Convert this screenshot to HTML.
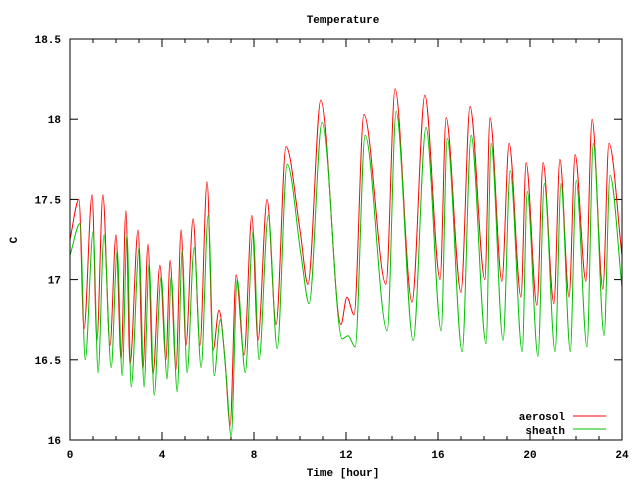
<!DOCTYPE html>
<html><head><meta charset="utf-8"><style>
html,body{margin:0;padding:0;background:#fff;}
svg text{font-family:"Liberation Mono","DejaVu Sans Mono",monospace;font-size:11px;font-weight:bold;fill:#000;}
</style></head><body>
<svg id="chart" width="640" height="480" xmlns="http://www.w3.org/2000/svg">
<rect x="0" y="0" width="640" height="480" fill="#fff"/>
<g id="grid"></g>
<g id="series"></g>
<rect x="70" y="39" width="552" height="401" fill="none" stroke="#000" stroke-width="1"/>
<text x="343" y="23" text-anchor="middle">Temperature</text>
<text x="343" y="476" text-anchor="middle">Time [hour]</text>
<text x="17" y="240" text-anchor="middle" transform="rotate(-90 17 240)">C</text>
<g>
<text x="565" y="420" text-anchor="end">aerosol</text>
<line x1="573" y1="416" x2="606" y2="416" stroke="#ff0000"/>
<text x="565" y="434" text-anchor="end">sheath</text>
<line x1="573" y1="429" x2="606" y2="429" stroke="#00c000"/>
</g>
</svg>
<script>
const xTicks=[0,4,8,12,16,20,24];
const yTicks=[16,16.5,17,17.5,18,18.5];
const yTickLabels=["16","16.5","17","17.5","18","18.5"];
const aerosolT=[0,0.39,0.61,0.96,1.17,1.43,1.74,2.0,2.22,2.43,2.61,2.96,3.17,3.39,3.61,3.91,4.17,4.35,4.61,4.83,5.04,5.35,5.65,5.96,6.22,6.48,6.74,6.96,7.22,7.57,7.91,8.17,8.57,8.96,9.39,10.0,10.35,10.91,11.78,12.04,12.35,12.78,13.74,14.13,14.87,15.43,16.09,16.35,17.0,17.39,18.04,18.26,18.78,19.09,19.61,19.83,20.30,20.57,21.04,21.30,21.70,21.96,22.43,22.70,23.17,23.43,24.0];
const aerosolV=[17.25,17.50,16.69,17.53,16.62,17.53,16.59,17.28,16.50,17.43,16.47,17.31,16.44,17.22,16.41,17.09,16.50,17.12,16.44,17.31,16.59,17.38,16.59,17.61,16.56,16.81,16.50,16.09,17.03,16.53,17.40,16.62,17.50,16.72,17.83,17.31,16.97,18.12,16.72,16.89,16.78,18.03,16.97,18.19,16.86,18.15,17.0,18.01,16.92,18.08,17.0,18.01,16.99,17.85,16.89,17.73,16.84,17.73,16.85,17.75,16.89,17.78,16.99,18.0,16.94,17.85,17.15];
const sheathT=[0,0.44,0.66,1.01,1.22,1.48,1.79,2.05,2.27,2.48,2.66,3.01,3.22,3.44,3.66,3.96,4.22,4.40,4.66,4.88,5.09,5.40,5.70,6.01,6.27,6.53,6.79,7.01,7.27,7.62,7.96,8.22,8.62,9.01,9.44,10.05,10.40,10.96,11.83,12.09,12.40,12.83,13.79,14.18,14.92,15.48,16.14,16.40,17.05,17.44,18.09,18.31,18.83,19.14,19.66,19.88,20.35,20.62,21.09,21.35,21.75,22.01,22.48,22.75,23.22,23.48,24.0];
const sheathV=[17.15,17.35,16.50,17.30,16.42,17.28,16.45,17.18,16.40,17.28,16.33,17.20,16.33,17.10,16.28,17.02,16.38,17.02,16.30,17.18,16.42,17.20,16.45,17.40,16.40,16.75,16.40,16.02,17.00,16.42,17.30,16.50,17.40,16.57,17.72,17.15,16.85,17.98,16.63,16.65,16.58,17.90,16.68,18.05,16.62,17.95,16.68,17.88,16.55,17.90,16.60,17.85,16.62,17.68,16.55,17.55,16.52,17.60,16.55,17.60,16.55,17.62,16.58,17.85,16.65,17.65,16.95];
const X=t=>70+t*23;
const Y=v=>440-(v-16)*160.4;
const NS="http://www.w3.org/2000/svg";
const grid=document.getElementById('grid');
function mk(tag,attrs,parent){const e=document.createElementNS(NS,tag);for(const k in attrs)e.setAttribute(k,attrs[k]);parent.appendChild(e);return e;}
for(let h=0;h<=24;h++){
  const len=(h%4===0)?8:4;
  const l1=mk('line',{x1:X(h),y1:440,x2:X(h),y2:440-len,stroke:'#000'},grid);
  
  
  const l2=mk('line',{x1:X(h),y1:39,x2:X(h),y2:39+len,stroke:'#000'},grid);
  
  
}
xTicks.forEach(t=>{
  const tx=mk('text',{x:X(t),y:458,'text-anchor':'middle'},grid);
  tx.textContent=String(t);
  
  
});
yTicks.forEach((v,i)=>{
  const a=mk('line',{x1:70,y1:Y(v),x2:78,y2:Y(v),stroke:'#000'},grid);
  
  
  const b=mk('line',{x1:614,y1:Y(v),x2:622,y2:Y(v),stroke:'#000'},grid);
  
  
  const tx=mk('text',{x:61,y:Y(v)+4,'text-anchor':'end'},grid);
  tx.textContent=yTickLabels[i];
  
  
});
// monotone cubic path (Fritsch-Carlson)
function smoothPath(T,V){
  const xs=T.map(X), ys=V.map(Y), n=xs.length;
  const d=[],m=new Array(n);
  for(let i=0;i<n-1;i++)d.push((ys[i+1]-ys[i])/(xs[i+1]-xs[i]));
  m[0]=d[0];m[n-1]=d[n-2];
  for(let i=1;i<n-1;i++){m[i]=(d[i-1]*d[i]<=0)?0:(d[i-1]+d[i])/2;}
  for(let i=0;i<n-1;i++){
    if(d[i]===0){m[i]=0;m[i+1]=0;continue;}
    const a=m[i]/d[i],b=m[i+1]/d[i],s=a*a+b*b;
    if(s>9){const t=3/Math.sqrt(s);m[i]=t*a*d[i];m[i+1]=t*b*d[i];}
  }
  let p='M'+xs[0].toFixed(1)+','+ys[0].toFixed(1);
  for(let i=0;i<n-1;i++){
    const h=(xs[i+1]-xs[i])/3;
    p+=' C'+(xs[i]+h).toFixed(1)+','+(ys[i]+m[i]*h).toFixed(1)+' '+(xs[i+1]-h).toFixed(1)+','+(ys[i+1]-m[i+1]*h).toFixed(1)+' '+xs[i+1].toFixed(1)+','+ys[i+1].toFixed(1);
  }
  return p;
}
const ser=document.getElementById('series');
const pa=mk('path',{d:smoothPath(aerosolT,aerosolV),fill:'none',stroke:'#ff0000','stroke-width':1},ser);


const ps=mk('path',{d:smoothPath(sheathT,sheathV),fill:'none',stroke:'#00c000','stroke-width':1},ser);


</script>
</body></html>
